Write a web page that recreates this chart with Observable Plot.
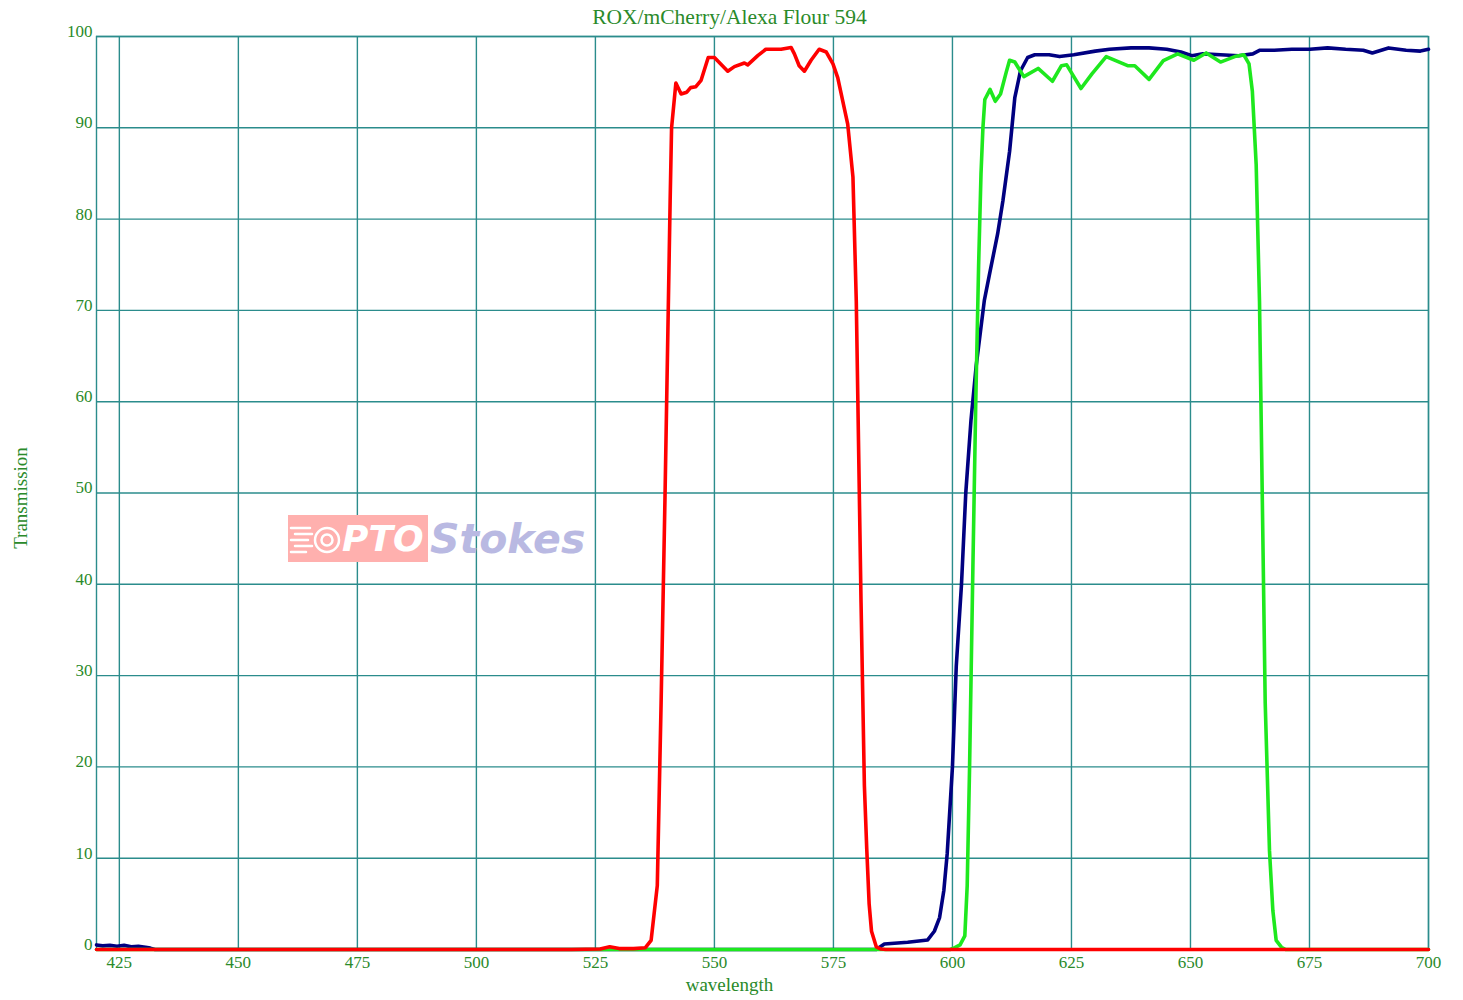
<!DOCTYPE html>
<html>
<head>
<meta charset="utf-8">
<script src="https://cdn.jsdelivr.net/npm/d3@7"></script>
<script src="https://cdn.jsdelivr.net/npm/@observablehq/plot@0.6"></script>
<style>
  html, body { margin: 0; padding: 0; background: #fff; }
  #wrap { position: relative; width: 1463px; height: 1000px; }
  #wm { position: absolute; left: 288px; top: 515px; height: 47px; display: flex; align-items: center; pointer-events: none; }
  #wm .box { background: #ffb0ae; height: 47px; width: 140px; display: flex; align-items: center; box-sizing: border-box; padding-left: 0px; }
  #wm .pto { font-family: "DejaVu Sans", sans-serif; font-style: italic; font-weight: bold; font-size: 36px; color: #fff; margin-left: -2px; }
  #wm .stokes { font-family: "DejaVu Sans", sans-serif; font-style: italic; font-weight: bold; font-size: 41px; color: #b9b9e2; margin-left: 2px; }
</style>
</head>
<body>
<div id="wrap"></div>
<script>
const title = "ROX/mCherry/Alexa Flour 594";
const xLabel = "wavelength";
const yLabel = "Transmission";
const xTicks = [425, 450, 475, 500, 525, 550, 575, 600, 625, 650, 675, 700];
const yTicks = [0, 10, 20, 30, 40, 50, 60, 70, 80, 90, 100];

// red band-pass
const redW = [420.2, 450, 500, 520, 526, 528, 530, 533, 535.5, 536.7, 538, 538.8, 539.6, 540.7, 541, 541.9, 543, 544.2, 545, 546.1, 547.2, 548.7, 550, 552.8, 554.2, 556.3, 557, 559.1, 560.8, 564, 566.1, 566.8, 567.8, 568.9, 570.3, 572, 573.5, 574.9, 575.9, 578, 579.1, 579.8, 580.8, 581.5, 582, 582.5, 583, 584, 585, 586, 650, 700];
const redT = [0, 0, 0, 0, 0.05, 0.3, 0.1, 0.1, 0.2, 1, 7, 27, 49, 82, 90, 94.9, 93.7, 93.9, 94.4, 94.5, 95.2, 97.7, 97.7, 96.2, 96.7, 97.1, 96.9, 97.9, 98.6, 98.6, 98.8, 98.1, 96.8, 96.2, 97.4, 98.6, 98.3, 97, 95.5, 90.4, 84.6, 71, 38, 18, 11, 5, 2, 0.3, 0.05, 0, 0, 0];

// blue (navy) long-pass
const blueW = [420.2, 421.5, 423, 424.5, 426, 427.5, 429, 430.5, 431.5, 432.5, 450, 500, 550, 584, 585.7, 590.6, 594.8, 596.2, 597.3, 598.2, 598.9, 600, 600.8, 601.9, 602.8, 603.9, 605, 606.7, 607.8, 609.5, 610.6, 612, 613.1, 614.3, 615.8, 617.3, 620.3, 622.5, 625.5, 630, 633, 637.5, 641.3, 645, 648, 650.3, 652.6, 656.3, 660.1, 663.1, 664.6, 667.6, 671.3, 675.1, 678.8, 682.6, 686.3, 688.2, 691.6, 695.3, 698.3, 700];
const blueT = [0.5, 0.4, 0.45, 0.35, 0.45, 0.3, 0.35, 0.25, 0.15, 0, 0, 0, 0, 0, 0.6, 0.8, 1.05, 2, 3.5, 6.5, 10.5, 20, 31, 40, 50, 58, 64, 71.1, 74, 78.4, 82, 87.4, 93.3, 96.25, 97.7, 98, 98, 97.8, 98, 98.4, 98.6, 98.75, 98.75, 98.6, 98.3, 97.9, 98.1, 98, 97.9, 98.1, 98.5, 98.5, 98.6, 98.6, 98.75, 98.6, 98.5, 98.2, 98.75, 98.5, 98.4, 98.6];

// green band-pass
const greenW = [420.2, 500, 599.5, 600.5, 601.6, 602.6, 603.1, 603.6, 604.3, 604.9, 605.5, 606, 606.4, 606.8, 607.9, 609, 610.1, 611.3, 612, 613.1, 615, 618, 621, 622.9, 624, 627, 629.3, 632.3, 636.8, 638.3, 641.3, 644.3, 647.3, 650.7, 653.3, 656.3, 659.3, 661.2, 662.3, 663, 663.8, 664.5, 665.1, 665.7, 666.6, 667.3, 668, 669.1, 670, 700];
const greenT = [0, 0, 0, 0.2, 0.5, 1.5, 7, 20, 42, 60, 75, 85, 90, 93.1, 94.2, 92.9, 93.7, 96.1, 97.4, 97.2, 95.6, 96.5, 95.1, 96.8, 96.9, 94.3, 95.9, 97.8, 96.8, 96.8, 95.3, 97.35, 98.1, 97.4, 98.2, 97.2, 97.8, 98, 97, 94, 86, 71, 49, 27, 10.8, 4.3, 1, 0.25, 0, 0];

const toRows = (W, T) => W.map((w, i) => ({w, t: T[i]}));
const red = toRows(redW, redT);
const blue = toRows(blueW, blueT);
const green = toRows(greenW, greenT);

const grid = "#2b8c8c";
const textColor = "#2a8a2a";

const chart = Plot.plot({
  width: 1463,
  height: 1000,
  marginLeft: 96,
  marginRight: 35,
  marginTop: 36,
  marginBottom: 51,
  x: {domain: [420.2, 700]},
  y: {domain: [0, 100]},
  style: {fontFamily: "Liberation Serif, Times New Roman, serif", fontSize: "17px", color: textColor, background: "white"},
  marks: [
    Plot.gridX(xTicks, {stroke: grid, strokeOpacity: 1, strokeWidth: 1.4}),
    Plot.gridY(yTicks, {stroke: grid, strokeOpacity: 1, strokeWidth: 1.4}),
    Plot.frame({stroke: grid, strokeWidth: 1.4}),
    Plot.axisX({ticks: xTicks, tickSize: 0, tickPadding: 6, tickFormat: d => String(d), fontSize: 17, label: null}),
    Plot.axisY({ticks: yTicks, tickSize: 0, tickPadding: 4, dy: -5, tickFormat: d => String(d), fontSize: 17, label: null}),
    Plot.lineY(blue, {x: "w", y: "t", stroke: "#000080", strokeWidth: 3.6}),
    Plot.lineY(green, {x: "w", y: "t", stroke: "#1ee81e", strokeWidth: 3.6}),
    Plot.lineY(red, {x: "w", y: "t", stroke: "#ff0000", strokeWidth: 3.6}),
    Plot.text([title], {frameAnchor: "top", lineAnchor: "middle", dx: -33, dy: -19, fontSize: 21.5, fill: textColor}),
    Plot.text([xLabel], {frameAnchor: "bottom", lineAnchor: "middle", dx: -33, dy: 35, fontSize: 19, fill: textColor}),
    Plot.text([yLabel], {frameAnchor: "left", textAnchor: "middle", lineAnchor: "middle", dx: -76, dy: 5, rotate: -90, fontSize: 19, fill: textColor})
  ]
});

const wrap = document.getElementById("wrap");
wrap.appendChild(chart);
const wm = document.createElement("div");
wm.id = "wm";
wm.innerHTML = `<div class="box"><svg width="56" height="40" viewBox="0 0 56 40"><g stroke="#fff" stroke-width="2.5" stroke-linecap="round" fill="none"><line x1="3" y1="9" x2="22" y2="9"/><line x1="7" y1="15" x2="24" y2="15"/><line x1="3" y1="21" x2="20" y2="21"/><line x1="7" y1="27" x2="24" y2="27"/><line x1="3" y1="33" x2="18" y2="33"/><circle cx="39" cy="21" r="12"/><circle cx="39" cy="21" r="5.5"/></g></svg><span class="pto">PTO</span></div><span class="stokes">Stokes</span>`;
wrap.appendChild(wm);
</script>
</body>
</html>
